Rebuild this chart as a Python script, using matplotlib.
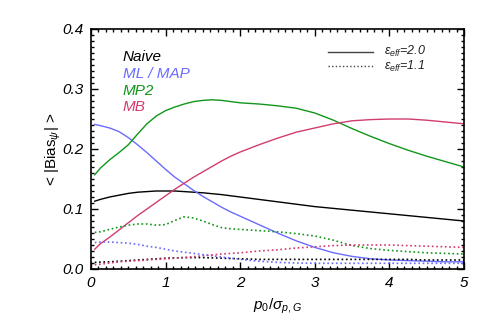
import matplotlib
matplotlib.use("Agg")
import matplotlib.pyplot as plt
from matplotlib.ticker import MultipleLocator, FormatStrFormatter

plt.rcParams['font.family'] = ['Liberation Sans', 'DejaVu Sans']
plt.rcParams['mathtext.fontset'] = 'custom'
plt.rcParams['mathtext.rm'] = 'Liberation Sans'
plt.rcParams['mathtext.it'] = 'Liberation Sans:italic'
plt.rcParams['mathtext.bf'] = 'Liberation Sans:bold'

# x grid (p0 / sigma_p,G)
x = [0.05, 0.125, 0.25, 0.375, 0.5, 0.625, 0.75, 0.875, 1.0, 1.125, 1.25, 1.375,
     1.5, 1.625, 1.75, 1.875, 2.0, 2.25, 2.5, 2.75, 3.0, 3.25, 3.5, 3.75,
     4.0, 4.25, 4.5, 4.75, 5.0]

# eps_eff = 2.0 (solid)
naive_20 = [0.113, 0.116, 0.120, 0.123, 0.126, 0.128, 0.129, 0.130, 0.130, 0.130, 0.129, 0.128,
            0.127, 0.1255, 0.124, 0.122, 0.120, 0.116, 0.112, 0.108, 0.104, 0.101, 0.098, 0.095,
            0.092, 0.089, 0.086, 0.083, 0.080]
mlmap_20 = [0.241, 0.239, 0.235, 0.229, 0.219, 0.207, 0.194, 0.180, 0.166, 0.153, 0.142, 0.131,
            0.121, 0.112, 0.103, 0.095, 0.088, 0.074, 0.060, 0.047, 0.036, 0.027, 0.021, 0.017,
            0.015, 0.014, 0.013, 0.012, 0.012]
mp2_20 = [0.157, 0.168, 0.182, 0.194, 0.207, 0.225, 0.242, 0.255, 0.264, 0.270, 0.275, 0.279,
          0.281, 0.282, 0.281, 0.279, 0.277, 0.275, 0.272, 0.268, 0.260, 0.248, 0.234, 0.221,
          0.209, 0.198, 0.188, 0.179, 0.170]
mb_20 = [0.033, 0.042, 0.053, 0.065, 0.077, 0.089, 0.100, 0.111, 0.122, 0.133, 0.143, 0.153,
         0.162, 0.171, 0.180, 0.188, 0.195, 0.207, 0.218, 0.228, 0.235, 0.242, 0.247, 0.249,
         0.250, 0.250, 0.248, 0.245, 0.242]

# eps_eff = 1.1 (dotted)
naive_11 = [0.011, 0.0115, 0.012, 0.013, 0.014, 0.015, 0.016, 0.017, 0.018, 0.0185, 0.019, 0.019,
            0.019, 0.0185, 0.018, 0.0175, 0.017, 0.016, 0.016, 0.016, 0.016, 0.016, 0.016, 0.016,
            0.016, 0.016, 0.015, 0.015, 0.015]
mlmap_11 = [0.044, 0.045, 0.045, 0.044, 0.043, 0.041, 0.038, 0.036, 0.033, 0.030, 0.028, 0.026,
            0.024, 0.022, 0.020, 0.018, 0.016, 0.013, 0.011, 0.010, 0.0095, 0.0095, 0.0095, 0.0095,
            0.0095, 0.0095, 0.0095, 0.0095, 0.0095]
mp2_11 = [0.061, 0.062, 0.066, 0.070, 0.073, 0.075, 0.075, 0.073, 0.074, 0.081, 0.087, 0.085,
          0.080, 0.074, 0.069, 0.067, 0.066, 0.064, 0.062, 0.059, 0.055, 0.048, 0.039, 0.034,
          0.031, 0.029, 0.027, 0.026, 0.025]
mb_11 = [0.007, 0.008, 0.010, 0.012, 0.013, 0.014, 0.015, 0.016, 0.017, 0.018, 0.019, 0.0205,
         0.022, 0.0235, 0.025, 0.026, 0.027, 0.030, 0.032, 0.035, 0.037, 0.039, 0.040, 0.040,
         0.040, 0.039, 0.038, 0.037, 0.036]

labels = ['Naive', 'ML / MAP', 'MP2', 'MB']
colors = ['#000000', '#6b6bff', '#11961a', '#d23c6e']
eps_labels = [r'$\epsilon_{eff}$=2.0', r'$\epsilon_{eff}$=1.1']

fig = plt.figure(figsize=(4.91, 3.27), dpi=100)
ax = fig.add_axes([91/491, 58/327, 373/491, 240/327])

solid = [naive_20, mlmap_20, mp2_20, mb_20]
dotted = [naive_11, mlmap_11, mp2_11, mb_11]
dot_style = (0, (1.0, 1.6))
for ys, c in zip(solid, colors):
    ax.plot(x, ys, color=c, lw=1.0)
for ys, c in zip(dotted, colors):
    ax.plot(x, ys, color=c, lw=1.2, linestyle=dot_style)

ax.set_xlim(0, 5)
ax.set_ylim(0, 0.4)
ax.xaxis.set_major_locator(MultipleLocator(1))
ax.xaxis.set_minor_locator(MultipleLocator(0.1))
ax.yaxis.set_major_locator(MultipleLocator(0.1))
ax.yaxis.set_minor_locator(MultipleLocator(0.01))
ax.yaxis.set_major_formatter(FormatStrFormatter('%.1f'))
ax.tick_params(which='both', direction='in', top=True, right=True, width=1.0)
ax.tick_params(which='major', length=5, labelsize=11, pad=5)
ax.tick_params(which='minor', length=2.5)
for lab in ax.get_xticklabels() + ax.get_yticklabels():
    lab.set_fontstyle('italic')
for sp in ax.spines.values():
    sp.set_linewidth(1.2)

ax.set_xlabel(r'$p_0/\sigma_{p,G}$', fontsize=11, labelpad=5)
ax.set_ylabel(r'< |Bias$_\psi$| >', fontsize=11, labelpad=0)

# method labels
for i, (lab, c) in enumerate(zip(labels, colors)):
    ax.text(0.085, 0.865 - i * 0.069, lab, transform=ax.transAxes, color=c,
            fontsize=11, fontstyle='italic', va='baseline')

# line-style legend
ax.plot([0.635, 0.755], [0.905, 0.905], transform=ax.transAxes, color='#444444', lw=1.0)
ax.plot([0.635, 0.755], [0.847, 0.847], transform=ax.transAxes, color='#444444', lw=1.0,
        linestyle=(0, (1.0, 1.6)))
ax.text(0.785, 0.907, eps_labels[0], transform=ax.transAxes, fontsize=9,
        fontstyle='italic', va='center', color='#222222')
ax.text(0.785, 0.845, eps_labels[1], transform=ax.transAxes, fontsize=9,
        fontstyle='italic', va='center', color='#222222')

fig.savefig('out.png', dpi=100)
